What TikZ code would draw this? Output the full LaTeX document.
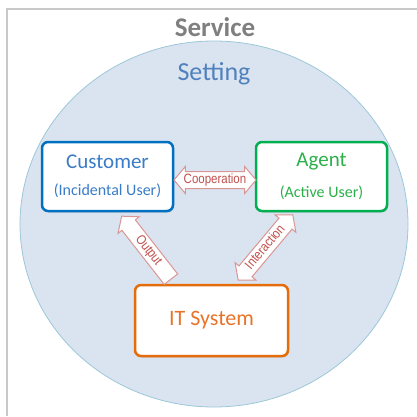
\documentclass[tikz,border=0pt]{standalone}
\usepackage{fontspec}
\setmainfont{Carlito}
\newfontfamily\arrowfont[FakeStretch=0.85]{Liberation Sans}
\usetikzlibrary{shapes.arrows,shadows}

\definecolor{framegray}{HTML}{C8C8C8}
\definecolor{servicegray}{HTML}{7F7F7F}
\definecolor{settingfill}{HTML}{DAE4F0}
\definecolor{settingline}{HTML}{9CC7D8}
\definecolor{settingtext}{HTML}{4F81BD}
\definecolor{custblue}{HTML}{0070C0}
\definecolor{custtext}{HTML}{3A7CC8}
\definecolor{agentgreen}{HTML}{00B050}
\definecolor{agenttext}{HTML}{2DB04A}
\definecolor{itorange}{HTML}{E46C0A}
\definecolor{ittext}{HTML}{E8742A}
\definecolor{arrowline}{HTML}{D99694}
\definecolor{arrowtext}{HTML}{C0504D}

\tikzset{
  rolebox/.style={draw, line width=2.5pt, rounded corners=6pt, fill=white, align=center,
    drop shadow={shadow xshift=1pt, shadow yshift=-1.5pt, opacity=0.25}},
  flowarrow/.style={draw=arrowline, fill=white, line width=1pt, inner xsep=0.5pt, inner ysep=1.5pt,
    text=arrowtext, font=\arrowfont\fontsize{13.5}{14}\selectfont,
    text height=10pt, text depth=3pt, minimum width=26pt},
}

\begin{document}
\begin{tikzpicture}[x=1pt,y=1pt]
\useasboundingbox (0,0) rectangle (417,416);

% frame and setting
\path[draw=framegray,line width=2pt] (7,0) |- (417,407);
\node[text=servicegray,font=\bfseries\fontsize{27}{30}\selectfont] (service) at (215,389) {Service};
\path[draw=settingline,fill=settingfill,line width=0.8pt] (214,192) ellipse [x radius=194, y radius=183];
\node[text=settingtext,font=\fontsize{26}{29}\selectfont] (setting) at (214,342) {Setting};

% the three roles
\node[rolebox, draw=custblue, minimum width=131pt, minimum height=69pt] (customer) at (107.5,239.5)
  {{\color{custtext}\fontsize{21}{23}\selectfont Customer}\\[15pt]{\color{custtext}\fontsize{16}{18}\selectfont (Incidental User)}};
\node[rolebox, draw=agentgreen, minimum width=131pt, minimum height=69pt] (agent) at (321.5,239.5)
  {{\color{agenttext}\fontsize{21}{23}\selectfont Agent}\\[15pt]{\color{agenttext}\fontsize{16}{18}\selectfont (Active User)}};
\node[rolebox, draw=itorange, minimum width=153pt, minimum height=71pt] (itsystem) at (211.5,95.5)
  {{\color{ittext}\fontsize{22}{24}\selectfont IT System}};

% relations
\node[flowarrow, double arrow, double arrow head extend=5pt, double arrow tip angle=100,
  minimum height=82pt] (cooperation) at (215,236) {Cooperation};
\node[flowarrow, single arrow, single arrow head extend=5pt, single arrow tip angle=100,
  shape border rotate=180, rotate=-52, minimum height=80pt] (output) at (148.5,165.5) {Output};
\node[flowarrow, double arrow, double arrow head extend=5pt, double arrow tip angle=100,
  rotate=50, minimum height=85pt] (interaction) at (265.5,168.5) {Interaction};
\end{tikzpicture}
\end{document}
